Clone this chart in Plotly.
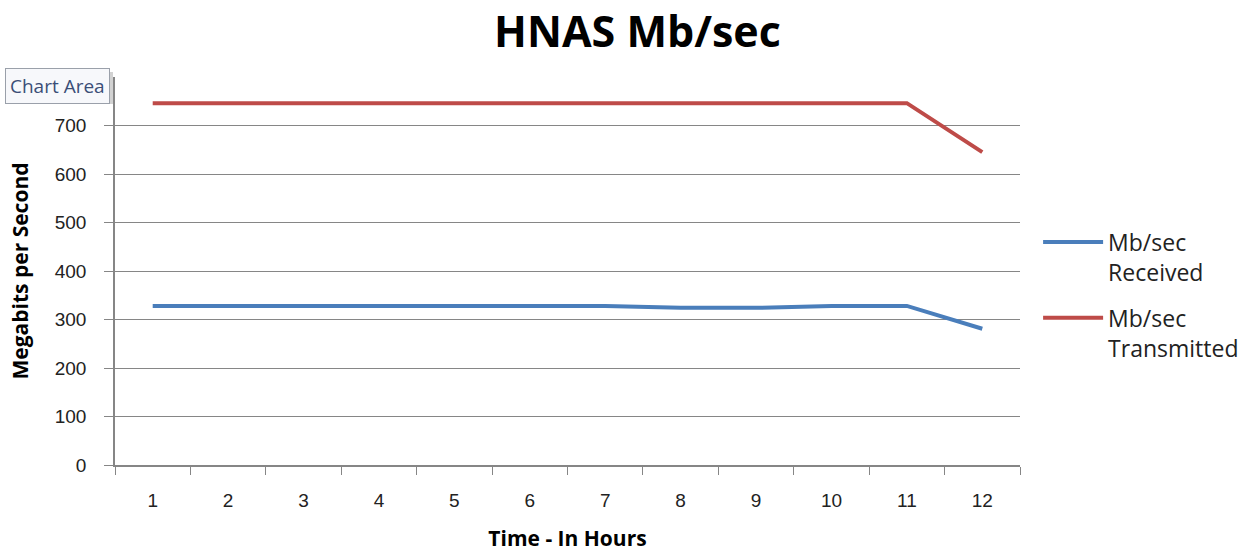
import plotly.graph_objects as go

hours = [str(i) for i in range(1, 13)]
received = [328, 328, 328, 328, 328, 328, 328, 324, 324, 328, 328, 281]
transmitted = [746, 746, 746, 746, 746, 746, 746, 746, 746, 746, 746, 645]
y_ticks = [0, 100, 200, 300, 400, 500, 600, 700, 800]
y_ticktext = ["0", "100", "200", "300", "400", "500", "600", "700", ""]

fig = go.Figure()
fig.add_trace(go.Scatter(x=hours, y=received, mode="lines", name="Mb/sec<br>Received",
                         legendgroup="rx", line=dict(color="#4A7EBB", width=4)))
fig.add_trace(go.Scatter(x=hours, y=transmitted, mode="lines", name="Mb/sec<br>Transmitted",
                         legendgroup="tx", line=dict(color="#BE4B48", width=4)))

axis_color = "#868686"
fig.update_layout(
    width=1250, height=552,
    paper_bgcolor="white", plot_bgcolor="white",
    margin=dict(l=115, r=230, t=77, b=87, autoexpand=False),
    title=dict(text="<b>HNAS Mb/sec</b>", x=0.51, xanchor="center",
               y=1 - 32 / 552, yanchor="middle",
               font=dict(family="Open Sans", size=43, color="#000000")),
    font=dict(family="Liberation Sans", color="#000000"),
    xaxis=dict(type="category", range=[-0.5, 11.5], tickson="boundaries",
               ticks="outside", ticklen=8, tickcolor=axis_color, showline=True,
               linecolor=axis_color, linewidth=1.5, showgrid=False, zeroline=False,
               ticklabelstandoff=17,
               tickfont=dict(size=19, family="Liberation Sans", color="#222222"),
               title=dict(text="<b>Time - In Hours</b>", standoff=26,
                          font=dict(size=21, family="Open Sans"))),
    yaxis=dict(range=[0, 800], tickvals=y_ticks, ticktext=y_ticktext,
               ticks="outside", ticklen=9, ticklabelstandoff=14,
               tickcolor=axis_color, showline=True, linecolor=axis_color, linewidth=1.5,
               showgrid=True, gridcolor=axis_color, gridwidth=1, zeroline=False,
               tickfont=dict(size=19, family="Liberation Sans", color="#222222"),
               title=dict(text="<b>Megabits per Second</b>", standoff=20,
                          font=dict(size=21, family="Open Sans"))),
    legend=dict(x=1.02, xanchor="left", y=0.63, yanchor="top", valign="top",
                font=dict(size=23, family="Open Sans", color="#222222"),
                tracegroupgap=13, itemwidth=60),
    showlegend=True,
)

# tooltip shadow (paper coords)
fig.add_shape(type="rect", xref="paper", yref="paper",
              x0=(9 - 115) / 905, x1=(113 - 115) / 905,
              y0=(465 - 104) / 388, y1=(465 - 72) / 388,
              fillcolor="#D2D2D2", line=dict(width=0), layer="above")
fig.add_annotation(xref="paper", yref="paper", x=-0.1215, y=1.023, xanchor="left", yanchor="top",
                   text="Chart Area", showarrow=False,
                   font=dict(size=19, family="Open Sans", color="#3B4E77"),
                   bgcolor="#F7F8FB", bordercolor="#9AA0AA", borderwidth=1, borderpad=4)

fig.write_html("out.html")
